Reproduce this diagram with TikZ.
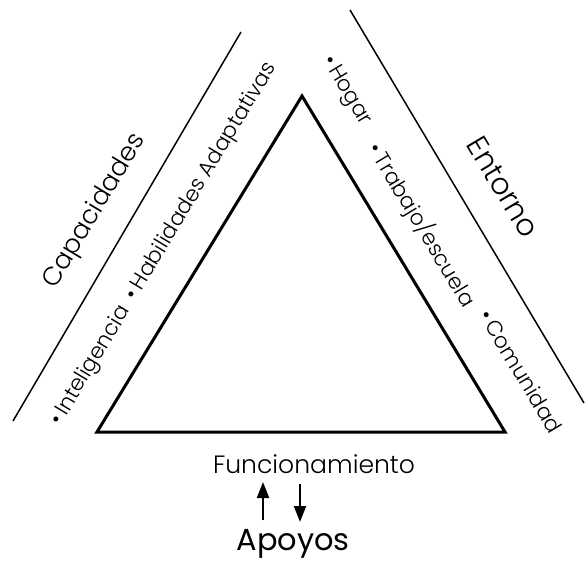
\documentclass[tikz,border=0pt]{standalone}
\usepackage{fontspec}
\usepackage{graphicx}
\IfFontExistsTF{Poppins Light}{\setmainfont{Poppins Light}\newfontfamily\heavy{Poppins}}{\setmainfont{Poppins}\newfontfamily\heavy{Poppins}}
\usetikzlibrary{arrows.meta}
\newcommand{\fitw}[2]{\resizebox{#1}{!}{#2}}
\begin{document}
\begin{tikzpicture}[x=1pt,y=1pt,
  tri/.style={line width=3pt, line join=miter},
  band/.style={line width=1.5pt},
  lbl/.style={inner sep=0pt, anchor=center},
  item/.style={lbl, font=\fontsize{21.5}{22}\selectfont},
  arr/.style={line width=2.2pt, -{Triangle[length=16pt,width=12pt]}}]
\useasboundingbox (0,0) rectangle (585,563);
% triangle
\coordinate (A) at (302,467);
\coordinate (B) at (97,131);
\coordinate (C) at (505,131);
\draw[tri] (A) -- (B) -- (C) -- cycle;
% outer lines
\coordinate (L1) at (241,531);
\coordinate (L2) at (13,142);
\draw[band] (L1) -- (L2);
\coordinate (R1) at (350,553);
\coordinate (R2) at (584,160);
\draw[band] (R1) -- (R2);
% left labels
\node[lbl, rotate=59] (cap) at (95,352) {\fitw{175pt}{Capacidades}};
\node[item, rotate=59] (intel) at (164,319) {\textbullet\,Inteligencia\enspace\textbullet\,Habilidades Adaptativas};
% right labels
\node[lbl, rotate=-59] (ent) at (503,376) {\fitw{112pt}{Entorno}};
\node[item, rotate=-59] (hog) at (346,472) {\textbullet\,Hogar};
\node[item, rotate=-59] (trab) at (422,338) {\textbullet\,Trabajo/escuela};
\node[item, rotate=-59] (com) at (521,192) {\textbullet\,Comunidad};
% bottom
\node[inner sep=0pt, anchor=base] (func) at (314,90) {\fitw{202pt}{Funcionamiento}};
\node[inner sep=0pt, anchor=base] (apo) at (293,13) {\fitw{113pt}{\heavy Apoyos}};
\coordinate (up1) at (263,43);
\coordinate (up2) at (263,81);
\coordinate (dn1) at (300,79);
\coordinate (dn2) at (300,41);
\draw[arr] (up1) -- (up2);
\draw[arr] (dn1) -- (dn2);
\end{tikzpicture}
\end{document}
